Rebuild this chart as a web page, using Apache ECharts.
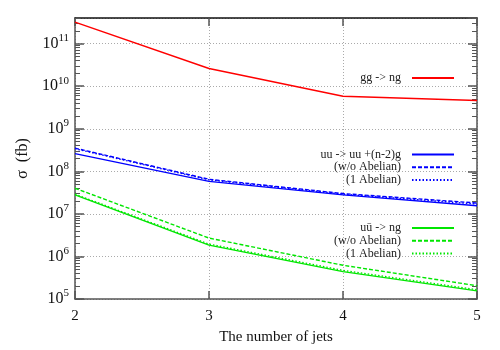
<!DOCTYPE html>
<html><head><meta charset="utf-8">
<script src="https://cdn.jsdelivr.net/npm/echarts@6/dist/echarts.min.js"></script>
<style>html,body{margin:0;padding:0;background:#fff}#c{width:500px;height:350px}</style>
</head><body><div id="c"></div>
<script>
const jets = [2, 3, 4, 5];
const ggNg = [3.2e11, 2.6e10, 5.8e9, 4.6e9];
const uuFull = [2.6e8, 5.8e7, 2.8e7, 1.55e7];
const uuNoAbelian = [3.5e8, 6.5e7, 3.0e7, 1.8e7];
const uuOneAbelian = [3.4e8, 6.3e7, 2.9e7, 1.7e7];
const uubarFull = [2.8e7, 1.85e6, 4.4e5, 1.55e5];
const uubarNoAbelian = [4.0e7, 2.7e6, 6.2e5, 2.05e5];
const uubarOneAbelian = [2.9e7, 1.95e6, 4.7e5, 1.65e5];
const legendLabels = {
  gg: 'gg -> ng',
  uu: 'uu -> uu +(n-2)g', uuWo: '(w/o Abelian)', uu1: '(1 Abelian)',
  qq: 'u\u016B -> ng', qqWo: '(w/o Abelian)', qq1: '(1 Abelian)'
};
const Y_MIN = 1e5, Y_MAX = 4e11;
const minorMultipliers = [2, 3, 4, 5, 6, 7, 8, 9];

const FONT = '"Liberation Serif", "DejaVu Serif", serif';
const pairs = arr => jets.map((x, i) => [x, arr[i]]);
const RED = '#ff0000', BLUE = '#0000ff', GREEN = '#00e600';
function ser(name, data, color, type) {
  return { name, type: 'line', data: pairs(data), symbol: 'none', showSymbol: false,
    lineStyle: { color, width: 1.4, type }, itemStyle: { color }, xAxisIndex: 0, yAxisIndex: 0, z: 3 };
}
function yLabel(v) {
  const l = Math.log10(v), e = Math.round(l);
  if (Math.abs(l - e) > 1e-6) return '';
  return '{b|10}{s|' + e + '}';
}
const chart = echarts.init(document.getElementById('c'), null, { renderer: 'canvas' });
const axisCol = '#555';
const legendBase = {
  orient: 'vertical', right: 40, align: 'right', itemWidth: 42, itemHeight: 14, itemGap: 0.8,
  itemStyle: { opacity: 0 },
  textStyle: { fontFamily: FONT, fontSize: 12, color: '#222' },
  formatter: n => legendLabels[n] + '  ', selectedMode: false
};
// Minor log ticks: one helper axis per multiplier, shifted by log10(m) so its
// integer ticks land on m*10^k of the main log axis.
const minorAxes = [];
['left', 'right'].forEach(pos => minorMultipliers.forEach(m => {
  const f = Math.log10(m);
  minorAxes.push({
    type: 'value', position: pos,
    min: Math.log10(Y_MIN) - f, max: Math.log10(Y_MAX) - f,
    minInterval: 1, maxInterval: 1, splitNumber: 6,
    axisLine: { show: true, onZero: false, lineStyle: { color: 'rgba(0,0,0,0)', width: 1 } },
    axisTick: { show: true, inside: true, length: 5, lineStyle: { color: '#555', width: 1 } },
    axisLabel: { show: false }, splitLine: { show: false }
  });
}));
chart.setOption({
  animation: false,
  grid: { left: 75, right: 23, top: 18, bottom: 50 },
  xAxis: [{
    type: 'value', min: 2, max: 5, interval: 1,
    name: 'The number of jets', nameLocation: 'middle', nameGap: 31,
    nameTextStyle: { fontFamily: FONT, fontSize: 15, color: '#111' },
    axisLine: { show: true, lineStyle: { color: axisCol, width: 1.5 } },
    axisTick: { show: true, inside: true, length: 8, lineStyle: { color: '#555', width: 1.5 } },
    axisLabel: { fontFamily: FONT, fontSize: 15, color: '#111', margin: 10 },
    splitLine: { show: true, lineStyle: { color: '#aaa', type: [1, 2], width: 1 } }
  }, {
    type: 'value', min: 2, max: 5, interval: 1, position: 'top',
    axisLine: { show: true, onZero: false, lineStyle: { color: '#111', width: 1.5 } },
    axisTick: { show: true, inside: true, length: 8, lineStyle: { color: '#555', width: 1.5 } },
    axisLabel: { show: false }, splitLine: { show: false }
  }],
  yAxis: [{
    type: 'log', logBase: 10, min: Y_MIN, max: Y_MAX,
    name: '\u03C3  (fb)', nameLocation: 'middle', nameGap: 42, nameRotate: 90,
    nameTextStyle: { fontFamily: FONT, fontSize: 16, color: '#111' },
    axisLine: { show: true, lineStyle: { color: axisCol, width: 1.5 } },
    axisTick: { show: true, inside: true, length: 9, lineStyle: { color: '#555', width: 1.5 } },
    axisLabel: { formatter: yLabel, margin: 6, showMaxLabel: false,
      rich: { b: { fontFamily: FONT, fontSize: 16, color: '#111' },
              s: { fontFamily: FONT, fontSize: 11, color: '#111', padding: [0, 0, 11, 0] } } },
    splitLine: { show: true, lineStyle: { color: '#aaa', type: [1, 2], width: 1 } }
  }, {
    type: 'log', logBase: 10, min: Y_MIN, max: Y_MAX, position: 'right',
    axisLine: { show: true, onZero: false, lineStyle: { color: axisCol, width: 1.5 } },
    axisTick: { show: true, inside: true, length: 9, lineStyle: { color: '#555', width: 1.5 } },
    axisLabel: { show: false }, splitLine: { show: false }
  }].concat(minorAxes),
  legend: [
    Object.assign({}, legendBase, { top: 67, data: ['gg'] }),
    Object.assign({}, legendBase, { top: 143.5, data: ['uu', 'uuWo', 'uu1'] }),
    Object.assign({}, legendBase, { top: 217, data: ['qq', 'qqWo', 'qq1'] })
  ],
  series: [
    ser('gg', ggNg, RED, 'solid'),
    ser('uu', uuFull, BLUE, 'solid'),
    ser('uuWo', uuNoAbelian, BLUE, [4, 2]),
    ser('uu1', uuOneAbelian, BLUE, [1.5, 2]),
    ser('qq', uubarFull, GREEN, 'solid'),
    ser('qqWo', uubarNoAbelian, GREEN, [4, 2]),
    ser('qq1', uubarOneAbelian, GREEN, [1.5, 2])
  ]
});
</script></body></html>
